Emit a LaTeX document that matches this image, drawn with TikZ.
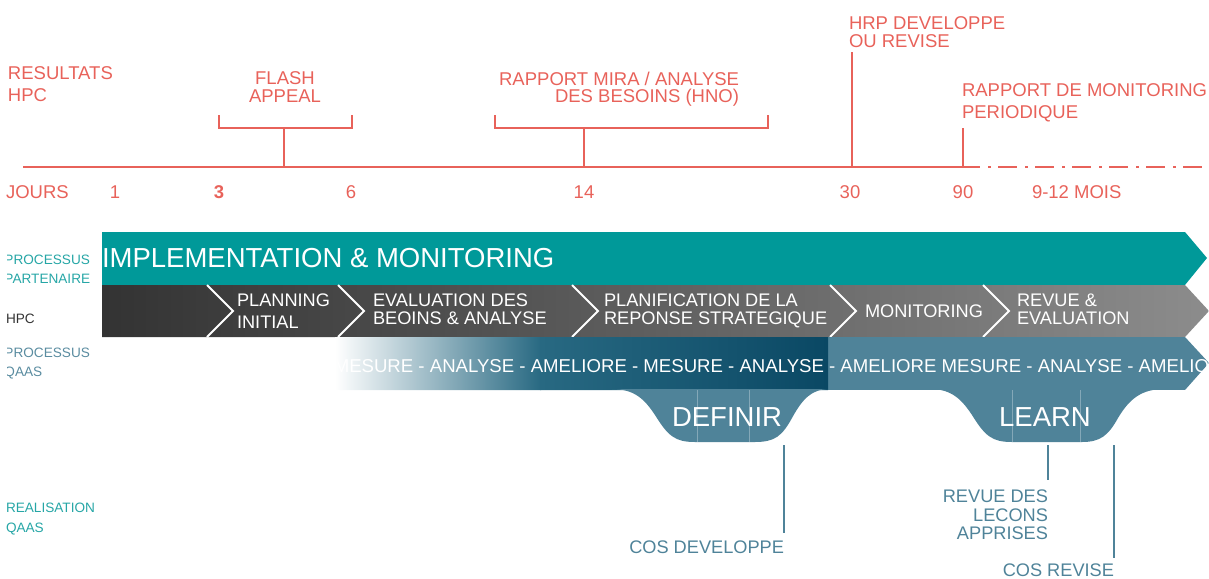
\documentclass[tikz,border=0pt]{standalone}
\usepackage{fontspec}
\setmainfont{Liberation Sans}
\definecolor{salmon}{RGB}{232,98,90}
\definecolor{tealband}{RGB}{0,153,153}
\definecolor{teallab}{RGB}{38,166,166}
\definecolor{steel}{RGB}{79,131,153}
\definecolor{steellab}{RGB}{90,140,160}
\definecolor{navyA}{RGB}{40,105,130}
\definecolor{navyB}{RGB}{10,72,100}
\definecolor{dgray}{RGB}{51,51,51}
\definecolor{lgray}{RGB}{140,140,140}
\newcommand\fsTime{\fontsize{18.5}{22}\selectfont}
\newcommand\fsTimeB{\fontsize{18.5}{17.5}\selectfont}
\newcommand\fsBig{\fontsize{27.5}{30}\selectfont}
\newcommand\fsBand{\fontsize{18.2}{18}\selectfont}
\newcommand\fsBandW{\fontsize{18.2}{22}\selectfont}
\newcommand\fsQaas{\fontsize{18.6}{18}\selectfont}
\newcommand\fsSide{\fontsize{13.6}{19}\selectfont}
\newcommand\fsBot{\fontsize{18.2}{18.3}\selectfont}
\tikzset{
  lbl/.style={inner sep=0pt, outer sep=0pt},
  tline/.style={draw=salmon, line width=2pt},
  ttext/.style={lbl, text=salmon, font=\fsTime},
  chev/.style={draw=white, line width=2pt},
  conn/.style={draw=steel, line width=2pt},
  tabline/.style={draw=steel!70!white, line width=0.7pt},
}
\begin{document}
\begin{tikzpicture}[x=1pt,y=-1pt]
\useasboundingbox (0,0) rectangle (1209,578);

% ---------- timeline ----------
\coordinate (tl0) at (23,167);
\coordinate (tl1) at (980,167);
\coordinate (tl2) at (1209,167);
\draw[tline] (tl0) -- (tl1);
\draw[tline, dash pattern=on 19pt off 8pt on 3pt off 7pt, dash phase=19pt] (tl1) -- (tl2);

\coordinate (fa0) at (284,167); \coordinate (fa1) at (284,128);
\coordinate (faL) at (219,115); \coordinate (faR) at (352,115);
\draw[tline] (fa0) -- (fa1);
\draw[tline] (faL) -- (219,128) -- (352,128) -- (faR);

\coordinate (mi0) at (584,167); \coordinate (mi1) at (584,128);
\coordinate (miL) at (495,115); \coordinate (miR) at (768,115);
\draw[tline] (mi0) -- (mi1);
\draw[tline] (miL) -- (495,128) -- (768,128) -- (miR);

\coordinate (hr0) at (852,167); \coordinate (hr1) at (852,52);
\draw[tline] (hr0) -- (hr1);
\coordinate (mo0) at (963,167); \coordinate (mo1) at (963,128);
\draw[tline] (mo0) -- (mo1);

\node[ttext, anchor=north west, align=left] (tres) at (8,67) {RESULTATS\\HPC};
\node[ttext, anchor=north, align=center, font=\fsTimeB] (tflash) at (285,72) {FLASH\\APPEAL};
\node[ttext, anchor=north east, align=right, font=\fsTimeB] (tmira) at (739,72) {RAPPORT MIRA / ANALYSE\\DES BESOINS (HNO)};
\node[ttext, anchor=north west, align=left, font=\fsTimeB] (thrp) at (849,17) {HRP DEVELOPPE\\OU REVISE};
\node[ttext, anchor=north west, align=left] (tmon) at (962,84) {RAPPORT DE MONITORING\\PERIODIQUE};

\node[ttext, anchor=base west] (njours) at (6,198.5) {JOURS};
\node[ttext, anchor=base] (n1) at (115,198.5) {1};
\node[ttext, anchor=base] (n3) at (219,198.5) {\bfseries 3};
\node[ttext, anchor=base] (n6) at (351,198.5) {6};
\node[ttext, anchor=base] (n14) at (584,198.5) {14};
\node[ttext, anchor=base] (n30) at (850,198.5) {30};
\node[ttext, anchor=base] (n90) at (963,198.5) {90};
\node[ttext, anchor=base west] (nmois) at (1032,198.5) {9-12 MOIS};

% ---------- teal band ----------
\fill[tealband] (102,232) -- (1185,232) -- (1207,258) -- (1185,285) -- (102,285) -- cycle;
\node[lbl, anchor=base west, text=white, font=\fsBig] (impl) at (102,267) {IMPLEMENTATION \& MONITORING};

% ---------- HPC band ----------
\shade[left color=dgray, right color=lgray] (102,285) -- (1185,285) -- (1209,311) -- (1185,337) -- (102,337) -- cycle;
\foreach \cx in {207,338,572,830,983}{
  \draw[chev] (\cx,285) -- (\cx+26,311) -- (\cx,337);
}
\node[lbl, anchor=north west, align=left, text=white, font=\fsBandW] (plan) at (237,294) {PLANNING\\INITIAL};
\node[lbl, anchor=north west, align=left, text=white, font=\fsBand] (eval) at (373,294) {EVALUATION DES\\BEOINS \& ANALYSE};
\node[lbl, anchor=north west, align=left, text=white, font=\fsBand] (plrep) at (604,294) {PLANIFICATION DE LA\\REPONSE STRATEGIQUE};
\node[lbl, anchor=base west, text=white, font=\fsBand] (monit) at (865,317) {MONITORING};
\node[lbl, anchor=north west, align=left, text=white, font=\fsBand] (revue) at (1017,294) {REVUE \&\\EVALUATION};

% ---------- QAAS band ----------
\begin{scope}
\clip (335,337) -- (1185,337) -- (1209,363) -- (1185,390) -- (335,390) -- cycle;
\fill[steel] (335,337) rectangle (1210,390);
\shade[left color=white, right color=navyA] (335,337) rectangle (541,390);
\shade[left color=navyA, right color=navyB] (540,337) rectangle (828,390);
\node[lbl, anchor=base east, text=white, font=\fsQaas] (qa1) at (824,372) {MESURE - ANALYSE - AMELIORE - MESURE - ANALYSE};
\node[lbl, anchor=base west, text=white, font=\fsQaas] (qa2) at (829,372) {- AMELIORE MESURE - ANALYSE - AMELIORE};
\end{scope}

% ---------- tabs ----------
\fill[steel] (612,389) .. controls (635,389) and (645,400) .. (655,415) .. controls (668,436) and (675,442) .. (695,442) -- (755,442) .. controls (775,442) and (782,436) .. (792,418) .. controls (803,398) and (812,389) .. (830,389) -- cycle;
\draw[tabline] (697,390) -- (697,442);
\draw[tabline] (749,390) -- (749,442);
\node[lbl, anchor=base, text=white, font=\fsBig] (definir) at (727,426) {DEFINIR};

\fill[steel] (930,389) .. controls (952,389) and (962,400) .. (972,415) .. controls (985,436) and (992,442) .. (1012,442) -- (1082,442) .. controls (1100,442) and (1108,436) .. (1118,418) .. controls (1130,398) and (1142,389) .. (1165,389) -- cycle;
\draw[tabline] (1012,390) -- (1012,442);
\draw[tabline] (1080,390) -- (1080,442);
\node[lbl, anchor=base, text=white, font=\fsBig] (learn) at (1045,426) {LEARN};

% ---------- connectors & bottom labels ----------
\coordinate (dA) at (784,445); \coordinate (dB) at (784,533);
\draw[conn] (dA) -- (dB);
\node[lbl, anchor=base east, text=steel, font=\fsBot] (cosdev) at (784,553) {COS DEVELOPPE};

\coordinate (lA) at (1048,445); \coordinate (lB) at (1048,480);
\draw[conn] (lA) -- (lB);
\node[lbl, anchor=north east, align=right, text=steel, font=\fsBot] (lecons) at (1048,490) {REVUE DES\\LECONS\\APPRISES};

\coordinate (rA) at (1114,445); \coordinate (rB) at (1114,558);
\draw[conn] (rA) -- (rB);
\node[lbl, anchor=base east, text=steel, font=\fsBot] (cosrev) at (1114,576.5) {COS REVISE};

% ---------- side labels ----------
\begin{scope}
\clip (7.3,240) rectangle (200,390);
\node[lbl, anchor=north west, align=left, text=teallab, font=\fsSide] (sp) at (4.5,255) {PROCESSUS\\PARTENAIRE};
\node[lbl, anchor=north west, align=left, text=steellab, font=\fsSide] (sq) at (4.5,348) {PROCESSUS\\QAAS};
\end{scope}
\node[lbl, anchor=base west, text=dgray, font=\fsSide] (shpc) at (6,323) {HPC};
\node[lbl, anchor=north west, align=left, text=teallab, font=\fontsize{13.6}{20}\selectfont] (sreal) at (6,503) {REALISATION\\QAAS};
\end{tikzpicture}
\end{document}
